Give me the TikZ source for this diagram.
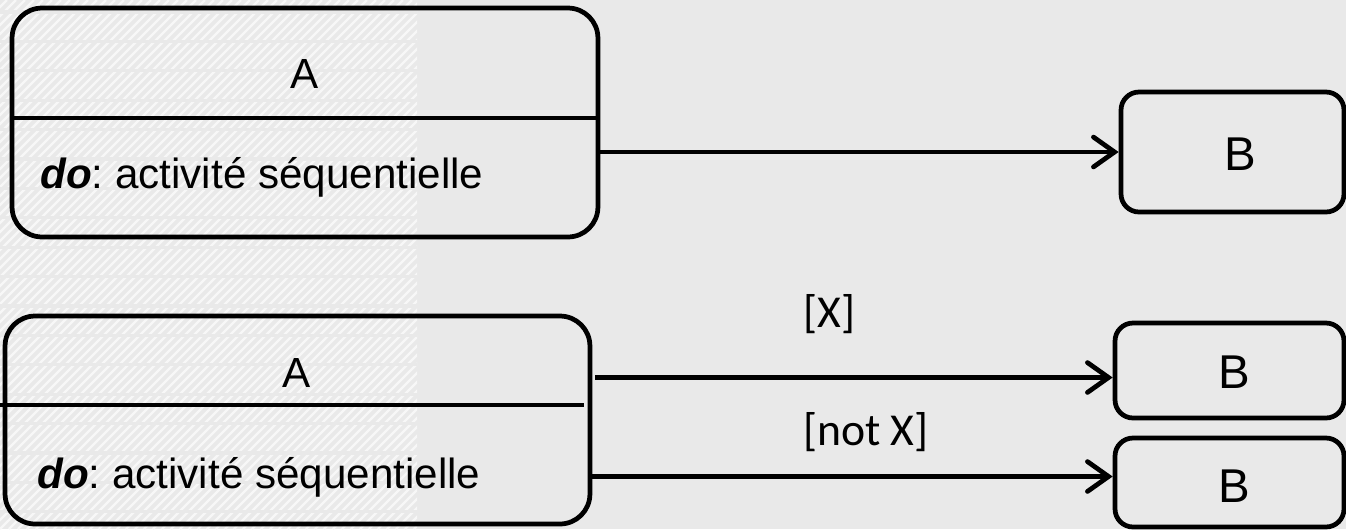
\documentclass[tikz,border=0pt]{standalone}
\usepackage{fontspec}
\setmainfont{Liberation Sans}
\newfontfamily\guardfont{Carlito}
\usetikzlibrary{arrows.meta,calc}

\definecolor{fondgris}{HTML}{E9E9E9}
\definecolor{hachure}{HTML}{F7F7F7}

\tikzset{
  etat/.style={draw=black,line width=2.7pt,rounded corners=0.6cm},
  etatB/.style={draw=black,line width=2.7pt,rounded corners=0.36cm},
  trans/.style={line width=2.7pt,-{Straight Barb[length=12pt,width=17pt,line cap=round]}},
  texte/.style={font=\fontsize{24}{28}\selectfont\frenchspacing,inner sep=0pt},
  garde/.style={font=\guardfont\fontsize{26}{30}\selectfont,inner sep=0pt}
}

\begin{document}
\begin{tikzpicture}[x=0.02cm,y=-0.02cm]
  % fond
  \fill[fondgris] (0,0) rectangle (1346,529);
  \useasboundingbox (0,0) rectangle (1346,529);
  \begin{scope}
    \clip (0,0) rectangle (417,529);
    \foreach \i in {-540,-531,...,420}
      \draw[hachure,line width=1.3pt] (\i,529) -- (\i+529,0);
    \foreach \j in {12,41.4,...,529}
      \fill[fondgris] (0,\j-1.6) rectangle (417,\j+1.6);
  \end{scope}

  % premier cas : une seule transition
  \node[etat,minimum width=11.72cm,minimum height=4.58cm] (Atop) at (305,122.5) {};
  \draw[line width=2.7pt] (10,118) -- (596,118);
  \node[texte,anchor=base] (nomAtop) at (305,88) {A};
  \node[texte,anchor=base west] (doAtop) at (40,188) {\textbf{\textit{do}}: activité séquentielle};

  \node[etatB,minimum width=4.46cm,minimum height=2.4cm] (B1) at (1232.5,152) {};
  \node[texte,font=\fontsize{27}{30}\selectfont,anchor=base] (nomB1) at (1240,170) {B};
  \draw[trans] (Atop.east |- B1.west) -- (B1.west);

  % second cas : deux transitions gardees
  \node[etat,minimum width=11.7cm,minimum height=4.16cm] (Abot) at (297.5,420) {};
  \draw[line width=2.7pt] (0,405) -- (584,405);
  \node[texte,anchor=base] (nomAbot) at (297,387) {A};
  \node[texte,anchor=base west] (doAbot) at (37,488) {\textbf{\textit{do}}: activité séquentielle};

  \node[etatB,minimum width=4.58cm,minimum height=1.9cm] (B2) at (1229.5,370.5) {};
  \node[texte,font=\fontsize{27}{30}\selectfont,anchor=base] (nomB2) at (1234,388) {B};
  \node[etatB,minimum width=4.58cm,minimum height=1.78cm] (B3) at (1229.5,482.5) {};
  \node[texte,font=\fontsize{27}{30}\selectfont,anchor=base] (nomB3) at (1234,502) {B};

  \coordinate (finX) at ($(B2.west)+(0,7)$);
  \coordinate (finNonX) at ($(B3.west)+(0,-6)$);
  \draw[trans] ($(Abot.east |- finX)+(3,0)$) -- (finX);
  \draw[trans] (Abot.east |- finNonX) -- (finNonX);

  \node[garde,anchor=base] (gardeX) at (829.5,327) {[X]};
  \node[garde,anchor=base] (gardeNonX) at (866,445) {[not X]};
\end{tikzpicture}
\end{document}
